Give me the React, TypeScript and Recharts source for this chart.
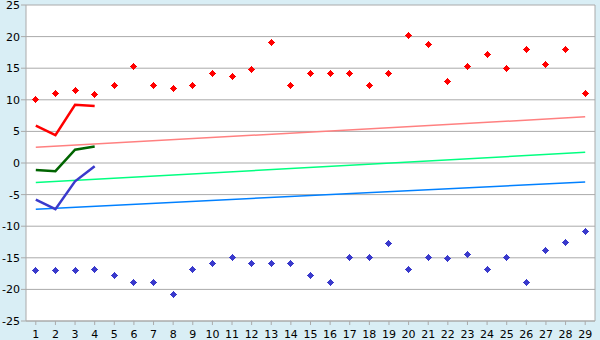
import React from 'react';
import {
  ComposedChart,
  Line,
  Scatter,
  XAxis,
  YAxis,
  CartesianGrid,
  ReferenceLine,
} from 'recharts';

const categories = [
  1, 2, 3, 4, 5, 6, 7, 8, 9, 10, 11, 12, 13, 14, 15, 16, 17, 18, 19, 20, 21, 22, 23, 24, 25, 26, 27, 28, 29,
];
const yTicks = [-25, -20, -15, -10, -5, 0, 5, 10, 15, 20, 25];

// upper / lower points
const upperPts = [
  10, 11, 11.5, 10.9, 12.2, 15.2, 12.2, 11.8, 12.3, 14.1, 13.7, 14.8, 19.1, 12.2, 14.1, 14.1, 14.1, 12.2, 14.2,
  20.2, 18.8, 12.9, 15.2, 17.1, 15, 17.9, 15.6, 17.9, 11,
];
const lowerPts = [
  -17, -17, -17, -16.8, -17.8, -18.9, -18.9, -20.8, -16.8, -15.9, -15, -15.9, -15.9, -15.9, -17.8, -18.9, -15, -15,
  -12.7, -16.8, -15, -15.1, -14.5, -16.8, -15, -18.9, -13.8, -12.6, -10.8,
];

// short series, first 4 categories only
const redLine = [5.9, 4.4, 9.2, 9.0];
const greenLine = [-1.1, -1.3, 2.1, 2.6];
const blueLine = [-5.8, -7.3, -2.9, -0.5];

// trend lines: value at first and last category
const trendRed = [2.5, 7.3];
const trendGreen = [-3.1, 1.7];
const trendBlue = [-7.3, -3.0];

const last = categories.length - 1;
const rows = categories.map((x, i) => ({
  x,
  upper: upperPts[i],
  lower: lowerPts[i],
  red: redLine[i],
  green: greenLine[i],
  blue: blueLine[i],
  tRed: i === 0 ? trendRed[0] : i === last ? trendRed[1] : undefined,
  tGreen: i === 0 ? trendGreen[0] : i === last ? trendGreen[1] : undefined,
  tBlue: i === 0 ? trendBlue[0] : i === last ? trendBlue[1] : undefined,
}));

// small plus marker, 5px across with a solid 3px centre
const Plus = (color: string) => (props: any) => {
  const { cx, cy } = props;
  if (cx == null || cy == null) return null;
  const x = Math.floor(cx);
  const y = Math.floor(cy);
  return (
    <g fill={color} shapeRendering="crispEdges">
      <rect x={x - 3} y={y} width={7} height={1} />
      <rect x={x} y={y - 3} width={1} height={7} />
      <rect x={x - 2} y={y - 1} width={5} height={3} />
      <rect x={x - 1} y={y - 2} width={3} height={5} />
    </g>
  );
};

const tickStyle = { fill: '#000', fontSize: 11, fontFamily: 'DejaVu Sans' };

export default function App() {
  return (
    <div style={{ position: 'absolute', left: 0, top: 0, width: 600, height: 340, background: '#d9eef5' }}>
      <ComposedChart width={600} height={340} data={rows} margin={{ top: 5, right: 5, bottom: 0, left: 0 }}>
        <CartesianGrid vertical={false} stroke="#aaaaaa" fill="#ffffff" />
        <XAxis
          dataKey="x"
          type="number"
          domain={[0.5, 29.5]}
          ticks={categories}
          interval={0}
          height={19}
          tickSize={4}
          tickMargin={5}
          stroke="#aaaaaa"
          tick={tickStyle}
        />
        <YAxis
          type="number"
          domain={[-25, 25]}
          ticks={yTicks}
          interval={0}
          width={26}
          tickSize={5}
          tickMargin={1}
          stroke="#aaaaaa"
          tick={tickStyle}
        />
        <ReferenceLine x={29.5} stroke="#aaaaaa" />
        <Line dataKey="tRed" stroke="#ff8080" strokeWidth={1.5} dot={false} connectNulls isAnimationActive={false} />
        <Line dataKey="tGreen" stroke="#00ff80" strokeWidth={1.5} dot={false} connectNulls isAnimationActive={false} />
        <Line dataKey="tBlue" stroke="#0080ff" strokeWidth={1.5} dot={false} connectNulls isAnimationActive={false} />
        <Line dataKey="red" stroke="#ff0000" strokeWidth={2.5} dot={false} isAnimationActive={false} />
        <Line dataKey="green" stroke="#006400" strokeWidth={2.5} dot={false} isAnimationActive={false} />
        <Line dataKey="blue" stroke="#3a3acc" strokeWidth={2.5} dot={false} isAnimationActive={false} />
        <Scatter dataKey="upper" shape={Plus('#ff0000')} isAnimationActive={false} />
        <Scatter dataKey="lower" shape={Plus('#3a3acc')} isAnimationActive={false} />
      </ComposedChart>
    </div>
  );
}
